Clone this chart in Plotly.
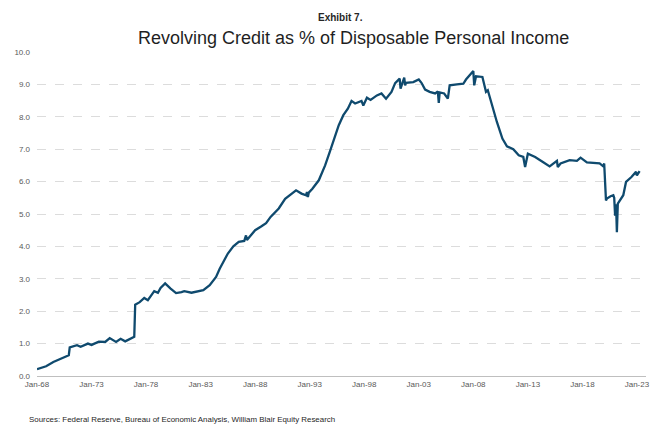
import plotly.graph_objects as go

# Month of each reading (YYYY-MM) and revolving credit as % of disposable personal income
dates = [
    "1968-01", "1968-11", "1969-07", "1970-03", "1970-11", "1970-12", "1971-01", "1971-09",
    "1972-01", "1972-09", "1973-01", "1973-09", "1974-04", "1974-09", "1975-04", "1975-09",
    "1976-02", "1976-06", "1976-11", "1976-12", "1977-01", "1977-06", "1977-11", "1978-03",
    "1978-10", "1979-02", "1979-05", "1979-10", "1980-04", "1980-10", "1981-04", "1981-07",
    "1982-03", "1982-10", "1983-04", "1983-11", "1984-06", "1984-10", "1985-03", "1985-07",
    "1986-01", "1986-07", "1987-01", "1987-03", "1987-04", "1988-01", "1988-08", "1989-01",
    "1989-06", "1990-01", "1990-03", "1990-10", "1991-03", "1991-10", "1992-04", "1992-09",
    "1992-10", "1992-11", "1992-12", "1993-04", "1993-11", "1994-06", "1994-11", "1995-05",
    "1995-09", "1996-02", "1996-07", "1996-11", "1997-03", "1997-10", "1997-12", "1998-04",
    "1998-08", "1999-03", "1999-08", "2000-01", "2000-07", "2000-11", "2001-04", "2001-05",
    "2001-09", "2001-10", "2001-11", "2002-07", "2003-01", "2003-04", "2003-08", "2004-01",
    "2004-07", "2004-10", "2004-11", "2004-12", "2005-05", "2005-09", "2005-11", "2006-07",
    "2007-02", "2007-05", "2007-10", "2008-01", "2008-02", "2008-04", "2008-11", "2009-03",
    "2009-05", "2009-10", "2010-03", "2010-09", "2011-02", "2011-09", "2012-03", "2012-08",
    "2012-10", "2013-01", "2013-09", "2014-06", "2015-01", "2015-09", "2015-10", "2016-01",
    "2016-06", "2016-11", "2017-07", "2017-11", "2018-06", "2019-01", "2019-08", "2019-12",
    "2020-01", "2020-03", "2020-04", "2020-08", "2020-11", "2020-12", "2021-01", "2021-02",
    "2021-03", "2021-04", "2021-06", "2021-10", "2022-01", "2022-07", "2022-12", "2023-01",
    "2023-04",
]
values = [
    0.21, 0.30, 0.43, 0.54, 0.63, 0.64, 0.88, 0.95,
    0.90, 1.00, 0.96, 1.06, 1.05, 1.17, 1.05, 1.15,
    1.07, 1.12, 1.20, 1.21, 2.20, 2.28, 2.41, 2.34,
    2.62, 2.57, 2.72, 2.86, 2.70, 2.56, 2.59, 2.62,
    2.57, 2.62, 2.65, 2.80, 3.06, 3.31, 3.57, 3.78,
    4.00, 4.14, 4.17, 4.34, 4.20, 4.50, 4.62, 4.72,
    4.91, 5.09, 5.17, 5.47, 5.58, 5.73, 5.63, 5.58,
    5.68, 5.52, 5.66, 5.78, 6.04, 6.50, 6.91, 7.38,
    7.74, 8.05, 8.25, 8.49, 8.41, 8.49, 8.35, 8.59,
    8.52, 8.66, 8.72, 8.56, 8.77, 9.04, 9.18, 8.87,
    9.21, 8.97, 9.05, 9.07, 9.15, 9.05, 8.84, 8.77,
    8.72, 8.78, 8.43, 8.75, 8.72, 8.56, 8.97, 9.00,
    9.02, 9.15, 9.33, 9.41, 8.97, 9.25, 9.23, 8.77,
    8.82, 8.30, 7.84, 7.33, 7.09, 7.00, 6.81, 6.76,
    6.45, 6.86, 6.76, 6.60, 6.47, 6.64, 6.45, 6.56,
    6.60, 6.66, 6.64, 6.74, 6.59, 6.57, 6.56, 6.47,
    6.56, 5.42, 5.48, 5.55, 5.58, 5.50, 4.95, 5.30,
    4.44, 5.32, 5.40, 5.58, 5.99, 6.14, 6.30, 6.19,
    6.32,
]

tick_years = [1968, 1973, 1978, 1983, 1988, 1993, 1998, 2003, 2008, 2013, 2018, 2023]
tick_labels = ["Jan-68", "Jan-73", "Jan-78", "Jan-83", "Jan-88", "Jan-93",
               "Jan-98", "Jan-03", "Jan-08", "Jan-13", "Jan-18", "Jan-23"]

fig = go.Figure()
fig.add_trace(go.Scatter(
    x=dates, y=values, mode="lines",
    line=dict(color="#0f4a6e", width=2.3),
    hoverinfo="skip",
))

FONT = "Liberation Sans, Arial, sans-serif"

fig.update_layout(
    width=654, height=424,
    margin=dict(l=37, r=4, t=52, b=48),
    paper_bgcolor="white", plot_bgcolor="white",
    showlegend=False,
    font=dict(family=FONT, color="#595959", size=8),
    xaxis=dict(
        type="date",
        range=["1968-01-01", "2023-11-01"],
        tickvals=[f"{y}-01-01" for y in tick_years],
        ticktext=tick_labels,
        showgrid=False, zeroline=False,
        showline=True, linecolor="#bfbfbf", linewidth=1,
        ticks="", tickfont=dict(size=8, color="#595959"),
    ),
    yaxis=dict(
        range=[0, 10], dtick=1, tickformat=".1f",
        showgrid=True, gridcolor="#dcdcdc", griddash="dash", gridwidth=1,
        zeroline=False, showline=False, ticks="",
        ticklabelstandoff=6,
        tickfont=dict(size=8, color="#595959"),
    ),
    annotations=[
        dict(text="<b>Exhibit 7.</b>", xref="paper", yref="paper",
             x=0.499, y=1.105, xanchor="center", yanchor="middle",
             showarrow=False, font=dict(size=10, color="#262626", family=FONT)),
        dict(text="Revolving Credit as % of Disposable Personal Income",
             xref="paper", yref="paper", x=0.52, y=1.043,
             xanchor="center", yanchor="middle", showarrow=False,
             font=dict(size=18, color="#1f1f1f", family=FONT)),
        dict(text="Sources: Federal Reserve, Bureau of Economic Analysis, William Blair Equity Research",
             xref="paper", yref="paper", x=-0.0163, y=-0.133,
             xanchor="left", yanchor="middle", showarrow=False,
             font=dict(size=7.9, color="#262626", family=FONT)),
    ],
)

fig.write_html("out.html")
